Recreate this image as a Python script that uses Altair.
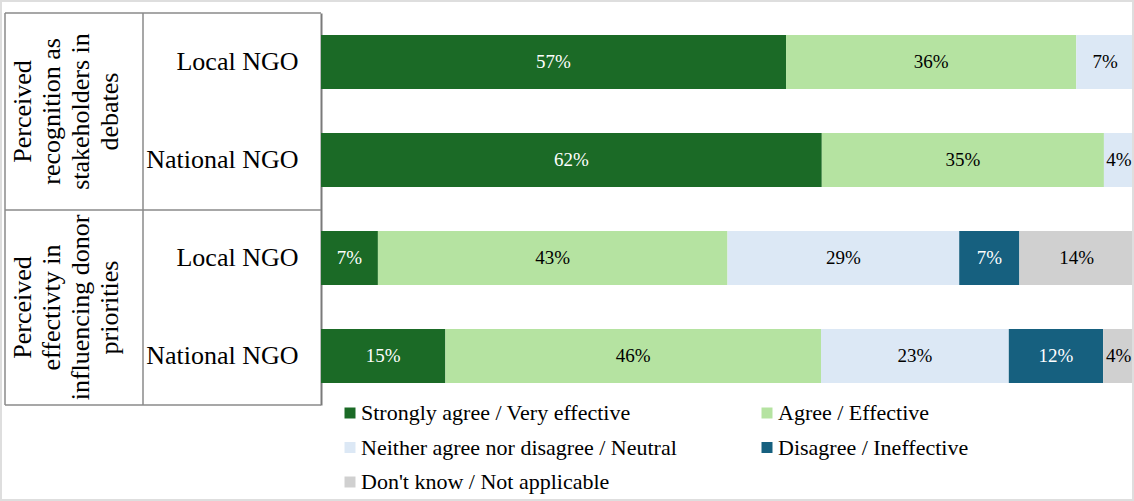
import altair as alt
import pandas as pd

# ---- data -------------------------------------------------------------
row_keys = ["Recognition|Local NGO", "Recognition|National NGO",
            "Effectivity|Local NGO", "Effectivity|National NGO"]

categories = ["Strongly agree / Very effective", "Agree / Effective",
              "Neither agree nor disagree / Neutral", "Disagree / Ineffective",
              "Don't know / Not applicable"]
colors = ["#1B6A26", "#B5E3A1", "#DCE8F5", "#16607F", "#D0D0D0"]
dark_categories = ["Strongly agree / Very effective", "Disagree / Ineffective"]

strong_vals = [57.2, 61.6, 7.0, 15.3]
agree_vals = [35.7, 34.7, 43.0, 46.2]
neutral_vals = [7.1, 3.7, 28.5, 23.1]
disagree_vals = [0.0, 0.0, 7.4, 11.6]
dontknow_vals = [0.0, 0.0, 14.1, 3.8]

strong_lbl = ["57%", "62%", "7%", "15%"]
agree_lbl = ["36%", "35%", "43%", "46%"]
neutral_lbl = ["7%", "4%", "29%", "23%"]
disagree_lbl = ["", "", "7%", "12%"]
dontknow_lbl = ["", "", "14%", "4%"]

group_lines = [
    ["Perceived", "recognition as", "stakeholders in", "debates"],
    ["Perceived", "effectivty in", "influencing donor", "priorities"],
]

SERIF = "Liberation Serif"

# ---- table ------------------------------------------------------------
vals = [strong_vals, agree_vals, neutral_vals, disagree_vals, dontknow_vals]
lbls = [strong_lbl, agree_lbl, neutral_lbl, disagree_lbl, dontknow_lbl]
recs = []
for ci, cat in enumerate(categories):
    for ri, rk in enumerate(row_keys):
        v = vals[ci][ri]
        if v > 0:
            recs.append({"row": rk, "cat": cat, "order": ci, "value": v,
                         "label": lbls[ci][ri]})
df = pd.DataFrame(recs)

W, H = 813, 392
PAD_L, PAD_T, PAD_B = 321, 13, 96

base = alt.Chart(df).transform_stack(
    stack="value", groupby=["row"], as_=["x0", "x1"],
    sort=[alt.SortField("order", order="ascending")]
).transform_calculate(mid="(datum.x0 + datum.x1) / 2")

yenc = alt.Y("row:N", sort=row_keys, title=None,
             scale=alt.Scale(paddingInner=0.45, paddingOuter=0.225),
             axis=alt.Axis(labelExpr="split(datum.value, '|')[1]",
                           labelFontSize=26, labelColor="black",
                           labelPadding=23, ticks=False,
                           domainColor="#7a7a7a", domainWidth=2,
                           labelFont=SERIF))

bars = base.mark_bar(strokeWidth=0).encode(
    x=alt.X("x0:Q", scale=alt.Scale(domain=[0, 100], nice=False, zero=True),
            axis=None),
    x2="x1:Q",
    y=yenc,
    color=alt.Color("cat:N", scale=alt.Scale(domain=categories, range=colors),
                    sort=categories,
                    legend=alt.Legend(
                        title=None, orient="none", legendX=18, legendY=389,
                        direction="horizontal",
                        columns=2, columnPadding=79, rowPadding=12.5,
                        symbolType="square", symbolSize=121,
                        symbolStrokeWidth=0, labelOffset=0,
                        labelFontSize=22, labelFont=SERIF,
                        labelColor="black", labelLimit=500, padding=0)),
)

texts = base.mark_text(fontSize=19, font=SERIF,
                       baseline="middle", align="center").encode(
    x=alt.X("mid:Q"),
    y=alt.Y("row:N", sort=row_keys),
    text="label:N",
    color=alt.condition(
        alt.FieldOneOfPredicate(field="cat", oneOf=dark_categories),
        alt.value("white"), alt.value("black")),
)

one = alt.Data(values=[{"k": 1}])
layers = [bars, texts]

# group labels (rotated, multi-line; first line anchored, others follow)
group_centers = [(13 + 210) / 2 - PAD_T, (210 + 405) / 2 - PAD_T]
for lines, yc in zip(group_lines, group_centers):
    layers.append(alt.Chart(one).mark_text(
        text=lines, angle=270, fontSize=26, font=SERIF,
        lineHeight=29, align="center", baseline="middle", color="black"
    ).encode(x=alt.value(23 - PAD_L), y=alt.value(yc)))

line_col = "#8a8a8a"
# horizontal table lines
for yy in [0, 210 - PAD_T, 405 - PAD_T]:
    layers.append(alt.Chart(one).mark_rule(color=line_col, strokeWidth=1.5).encode(
        x=alt.value(5 - PAD_L), x2=alt.value(0), y=alt.value(yy)))
# vertical table lines
for xx in [5 - PAD_L, 143 - PAD_L]:
    layers.append(alt.Chart(one).mark_rule(color=line_col, strokeWidth=1.5).encode(
        x=alt.value(xx), y=alt.value(0), y2=alt.value(H)))

# outer light frame
layers.append(alt.Chart(one).mark_rect(filled=False, stroke="#dedede",
                                       strokeWidth=2).encode(
    x=alt.value(-PAD_L + 1), x2=alt.value(W - 1),
    y=alt.value(-PAD_T + 1), y2=alt.value(H + PAD_B - 1)))

chart = alt.layer(*layers).properties(
    width=W, height=H,
    padding={"left": PAD_L, "top": PAD_T, "right": 0, "bottom": PAD_B},
    autosize=alt.AutoSizeParams(type="none"),
    background="white",
).configure(font=SERIF).configure_view(stroke=None).configure_legend(
    labelFont=SERIF).configure_text(font=SERIF)

chart.save("out.html", embed_options={"renderer": "svg", "actions": False})
